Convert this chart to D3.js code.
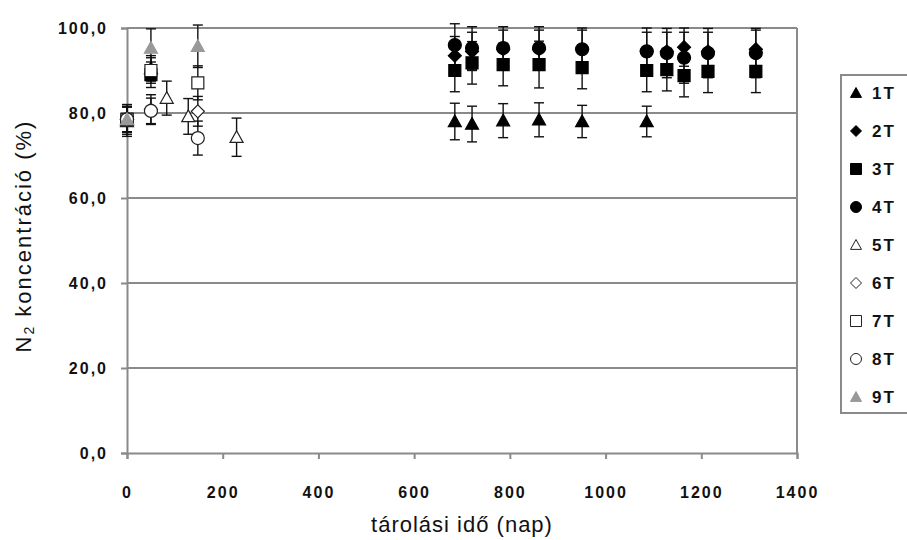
<!DOCTYPE html>
<html>
<head>
<meta charset="utf-8">
<script src="https://cdn.jsdelivr.net/npm/d3@7/dist/d3.min.js"></script>
<style>
  html, body { margin: 0; padding: 0; background: #fff; }
  svg { display: block; }
  text { font-family: "Liberation Sans", Arial, sans-serif; fill: #111; }
</style>
</head>
<body>
<svg id="chart" width="907" height="540"></svg>
<script>
// ---- data ----
const seriesNames = ["1T", "2T", "3T", "4T", "5T", "6T", "7T", "8T", "9T"];

const days1T = [0, 50, 685, 721, 786, 861, 951, 1086];
const vals1T = [78.5, 90.5, 78.0, 77.4, 78.2, 78.4, 78.0, 78.0];
const err1T  = [3.5, 3.0, 4.3, 4.2, 4.0, 4.0, 3.8, 3.6];

const days2T = [0, 685, 721, 786, 861, 951, 1086, 1128, 1164, 1214, 1314];
const vals2T = [78.5, 93.5, 94.5, 95.0, 95.0, 95.0, 94.5, 94.5, 95.5, 94.5, 95.0];
const err2T  = [3.0, 4.5, 4.5, 4.5, 4.5, 4.5, 4.5, 4.5, 4.5, 4.5, 4.5];

const days3T = [0, 50, 685, 721, 786, 861, 951, 1086, 1128, 1164, 1214, 1314];
const vals3T = [78.5, 89.0, 90.0, 91.8, 91.4, 91.4, 90.7, 90.0, 90.2, 88.8, 89.8, 89.8];
const err3T  = [3.0, 3.0, 5.0, 5.0, 5.0, 5.5, 5.0, 5.0, 5.0, 5.0, 5.0, 5.0];

const days4T = [0, 685, 721, 786, 861, 951, 1086, 1128, 1164, 1214, 1314];
const vals4T = [78.5, 96.0, 95.3, 95.3, 95.3, 95.0, 94.5, 94.1, 93.0, 94.1, 94.1];
const err4T  = [3.0, 5.0, 5.0, 5.0, 5.0, 5.0, 5.5, 5.8, 6.0, 5.8, 5.8];

const days5T = [0, 83, 128, 229];
const vals5T = [78.0, 83.5, 79.2, 74.3];
const err5T  = [3.5, 4.0, 4.2, 4.5];

const days6T = [0, 50, 148];
const vals6T = [78.5, 80.8, 80.4];
const err6T  = [3.0, 3.5, 3.5];

const days7T = [0, 50, 148];
const vals7T = [78.5, 90.0, 87.1];
const err7T  = [3.0, 3.0, 4.0];

const days8T = [0, 50, 148];
const vals8T = [78.5, 80.5, 74.1];
const err8T  = [3.0, 3.0, 4.0];

const days9T = [0, 50, 148];
const vals9T = [78.5, 95.3, 95.7];
const err9T  = [3.0, 4.5, 5.0];

const xTicks = [0, 200, 400, 600, 800, 1000, 1200, 1400];
const yTicks = [0, 20, 40, 60, 80, 100];

// ---- build series ----
const raw = [
  [days1T, vals1T, err1T], [days2T, vals2T, err2T], [days3T, vals3T, err3T],
  [days4T, vals4T, err4T], [days5T, vals5T, err5T], [days6T, vals6T, err6T],
  [days7T, vals7T, err7T], [days8T, vals8T, err8T], [days9T, vals9T, err9T]
];
const styles = [
  {shape: "triangle", fill: "#000", stroke: "#000"},
  {shape: "diamond",  fill: "#000", stroke: "#000"},
  {shape: "square",   fill: "#000", stroke: "#000"},
  {shape: "circle",   fill: "#000", stroke: "#000"},
  {shape: "triangle", fill: "#fff", stroke: "#222"},
  {shape: "diamond",  fill: "#fff", stroke: "#222"},
  {shape: "square",   fill: "#fff", stroke: "#222"},
  {shape: "circle",   fill: "#fff", stroke: "#222"},
  {shape: "triangle", fill: "#999", stroke: "#999"}
];
const series = seriesNames.map((name, i) => ({
  name, style: styles[i],
  points: raw[i][0].map((d, j) => ({day: d, v: raw[i][1][j], e: raw[i][2][j]}))
}));

// custom marker shapes (r = half width)
function shapePath(shape, r) {
  const p = d3.path();
  if (shape === "square") { p.rect(-r, -r, 2 * r, 2 * r); }
  else if (shape === "diamond") { p.moveTo(0, -r); p.lineTo(r, 0); p.lineTo(0, r); p.lineTo(-r, 0); p.closePath(); }
  else if (shape === "triangle") { p.moveTo(0, -r); p.lineTo(r, r * 0.8); p.lineTo(-r, r * 0.8); p.closePath(); }
  else { p.arc(0, 0, r, 0, 2 * Math.PI); p.closePath(); }
  return p.toString();
}

// ---- layout ----
const svg = d3.select("#chart");
svg.append("rect").attr("width", 907).attr("height", 540).attr("fill", "#fff");

const x = d3.scaleLinear().domain([0, 1400]).range([127, 797]);
const y = d3.scaleLinear().domain([0, 100]).range([453, 28]);

const gridColor = "#8a8a8a";

// gridlines
svg.append("g").selectAll("line").data(yTicks.filter(t => t > 0)).join("line")
  .attr("x1", x(0)).attr("x2", x(1400))
  .attr("y1", d => y(d)).attr("y2", d => y(d))
  .attr("stroke", gridColor).attr("stroke-width", 2);
// right border
svg.append("line").attr("x1", x(1400)).attr("x2", x(1400)).attr("y1", y(100)).attr("y2", y(0))
  .attr("stroke", gridColor).attr("stroke-width", 2);

// axes
const xAxis = svg.append("g").attr("transform", `translate(0,${y(0)})`)
  .call(d3.axisBottom(x).tickValues(xTicks).tickSize(6).tickPadding(28).tickFormat(d3.format("d")));
const yAxis = svg.append("g").attr("transform", `translate(${x(0)},0)`)
  .call(d3.axisLeft(y).tickValues(yTicks).tickSize(6).tickPadding(13)
    .tickFormat(d => d3.format(".1f")(d).replace(".", ",")));
[xAxis, yAxis].forEach(g => {
  g.select(".domain").attr("stroke", gridColor).attr("stroke-width", 2);
  g.selectAll(".tick line").attr("stroke", gridColor).attr("stroke-width", 2);
  g.selectAll(".tick text").attr("font-family", "Liberation Sans, Arial, sans-serif")
    .attr("font-size", 16).attr("font-weight", "bold").attr("fill", "#1a1a1a")
    .attr("letter-spacing", 2);
});

// axis titles
svg.append("text").attr("x", x(700)).attr("y", 532).attr("text-anchor", "middle")
  .attr("font-size", 22).attr("letter-spacing", 1).text("tárolási idő (nap)");
const yt = svg.append("text").attr("transform", "translate(31,236) rotate(-90)")
  .attr("text-anchor", "middle").attr("font-size", 22).attr("letter-spacing", 2);
yt.append("tspan").text("N");
yt.append("tspan").attr("font-size", 14).attr("dy", 3).text("2");
yt.append("tspan").attr("dy", -3).text(" koncentráció (%)");

// error bars and markers
const plot = svg.append("g");
series.forEach(s => {
  const g = plot.append("g");
  const eb = g.selectAll("g.eb").data(s.points).join("g").attr("class", "eb");
  eb.append("line").attr("x1", d => x(d.day)).attr("x2", d => x(d.day))
    .attr("y1", d => y(d.v + d.e)).attr("y2", d => y(d.v - d.e))
    .attr("stroke", "#111").attr("stroke-width", 1.4);
  eb.append("line").attr("x1", d => x(d.day) - 5).attr("x2", d => x(d.day) + 5)
    .attr("y1", d => y(d.v + d.e)).attr("y2", d => y(d.v + d.e))
    .attr("stroke", "#111").attr("stroke-width", 1.4);
  eb.append("line").attr("x1", d => x(d.day) - 5).attr("x2", d => x(d.day) + 5)
    .attr("y1", d => y(d.v - d.e)).attr("y2", d => y(d.v - d.e))
    .attr("stroke", "#111").attr("stroke-width", 1.4);
});
series.forEach(s => {
  const r = s.style.shape === "square" ? 6 : 6.5;
  plot.append("g").selectAll("path").data(s.points).join("path")
    .attr("transform", d => `translate(${x(d.day)},${y(d.v)})`)
    .attr("d", shapePath(s.style.shape, r))
    .attr("fill", s.style.fill).attr("stroke", s.style.stroke).attr("stroke-width", 1.2);
});

// legend
const lgTop = 75, lgBottom = 413, lgLeft = 841;
svg.append("rect").attr("x", lgLeft).attr("y", lgTop).attr("width", 90).attr("height", lgBottom - lgTop)
  .attr("fill", "#fff").attr("stroke", gridColor).attr("stroke-width", 2);
const ly = d3.scalePoint().domain(seriesNames).range([93, 397]);
const lg = svg.append("g").selectAll("g").data(series).join("g")
  .attr("transform", d => `translate(0,${ly(d.name)})`);
lg.append("path").attr("transform", "translate(856,0)")
  .attr("d", d => shapePath(d.style.shape, 5.5))
  .attr("fill", d => d.style.fill).attr("stroke", d => d.style.stroke).attr("stroke-width", 1);
lg.append("text").attr("x", 872).attr("y", 6).attr("font-size", 17).attr("font-weight", "bold")
  .attr("letter-spacing", 2).attr("fill", "#1a1a1a").text(d => d.name);
</script>
</body>
</html>
